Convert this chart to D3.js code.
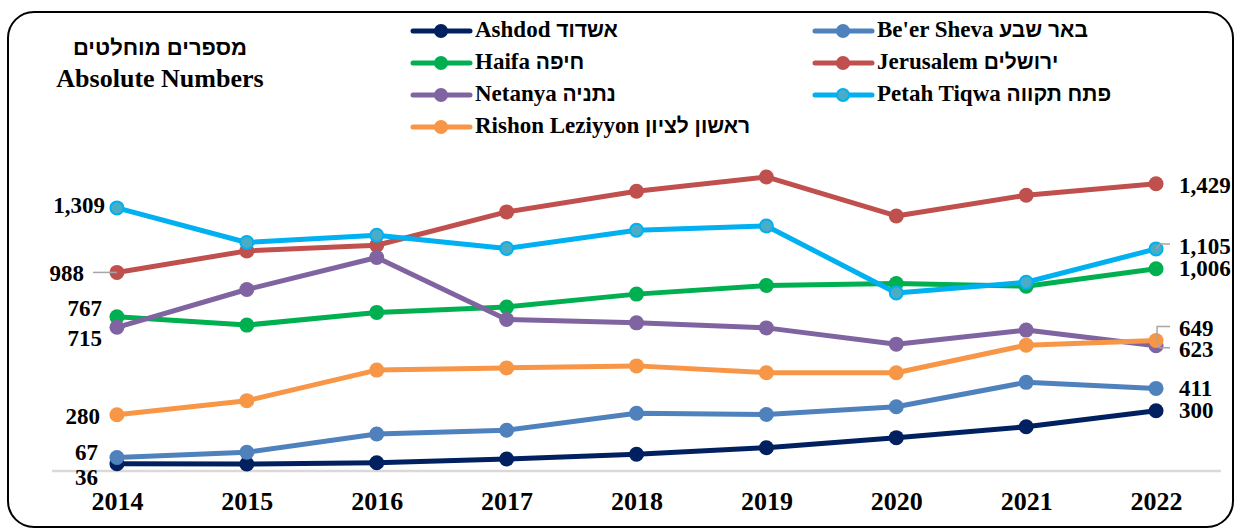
<!DOCTYPE html>
<html>
<head>
<meta charset="utf-8">
<script src="https://cdn.jsdelivr.net/npm/d3@7"></script>
<style>
  html, body { margin: 0; padding: 0; background: #fff; }
  svg { display: block; }
  .serif { font-family: "Liberation Serif", "Times New Roman", serif; font-weight: bold; }
  .heb { font-family: "Liberation Sans", Arial, sans-serif; font-weight: bold; }
</style>
</head>
<body>
<svg id="chart" width="1238" height="531"></svg>
<script>
// ---- data ----
const years = ["2014","2015","2016","2017","2018","2019","2020","2021","2022"];
const seriesNames = ["Ashdod", "Be'er Sheva", "Haifa", "Jerusalem", "Netanya", "Petah Tiqwa", "Rishon Leziyyon"];
const seriesHebrew = ["אשדוד", "באר שבע", "חיפה", "ירושלים", "נתניה", "פתח תקווה", "ראשון לציון"];
const ashdod     = [36, 35, 41, 60, 83, 116, 166, 220, 300];
const beerSheva  = [67, 93, 184, 203, 287, 281, 320, 441, 411];
const haifa      = [767, 726, 789, 816, 880, 923, 933, 919, 1006];
const jerusalem  = [988, 1095, 1123, 1289, 1392, 1463, 1269, 1372, 1429];
const netanya    = [715, 903, 1062, 754, 737, 712, 631, 701, 623];
const petahTiqwa = [1309, 1137, 1173, 1107, 1198, 1219, 886, 939, 1105];
const rishon     = [280, 350, 502, 513, 523, 489, 489, 626, 649];
const allValues = [ashdod, beerSheva, haifa, jerusalem, netanya, petahTiqwa, rishon];
const lineColors   = ["#002060", "#4f81bd", "#00b050", "#c0504d", "#8064a2", "#00b0f0", "#f79646"];
const markerColors = ["#002060", "#4f81bd", "#00b050", "#c0504d", "#8064a2", "#4bacc6", "#f79646"];
const titleHebrew = "מספרים מוחלטים";
const titleEnglish = "Absolute Numbers";
// labels: [series index, year index, dy]
const leftLabels  = [[5,0,-3],[3,0,1],[2,0,-9],[4,0,11],[6,0,1],[1,0,-6],[0,0,13]];
const rightLabels = [[3,8,1],[5,8,-3],[2,8,-1],[6,8,-13],[4,8,3],[1,8,0],[0,8,-1]];

// ---- chart ----
const svg = d3.select("#chart");
svg.append("rect").attr("x", 8).attr("y", 12).attr("width", 1225).attr("height", 515)
  .attr("rx", 26).attr("ry", 26).attr("fill", "#fff").attr("stroke", "#000").attr("stroke-width", 2);

const x = d3.scalePoint().domain(years).range([52, 1221]).padding(0.5);
const y = d3.scaleLinear().domain([0, 1800]).range([471, 109.2]);

// baseline
svg.append("line").attr("x1", 52).attr("x2", 1221).attr("y1", y(0)).attr("y2", y(0))
  .attr("stroke", "#d9d9d9").attr("stroke-width", 2.5);

// x axis labels
const xAxis = d3.axisBottom(x).tickSize(0).tickPadding(0);
const gx = svg.append("g").attr("transform", `translate(0, 491)`).call(xAxis);
gx.select(".domain").remove();
gx.selectAll("text").attr("class", "serif").attr("font-size", 26).attr("fill", "#000")
  .attr("dy", "0.35em").attr("y", 10);

// title
svg.append("text").attr("class", "heb").attr("x", 160).attr("y", 47).attr("dy", "0.35em")
  .attr("text-anchor", "middle").attr("font-size", 22).attr("direction", "rtl").attr("fill", "#000").text(titleHebrew);
svg.append("text").attr("class", "serif").attr("x", 160).attr("y", 78).attr("dy", "0.35em")
  .attr("text-anchor", "middle").attr("font-size", 26).attr("fill", "#000").text(titleEnglish);

// lines + markers
const line = d3.line().x((d, i) => x(years[i])).y(d => y(d));
allValues.forEach((vals, s) => {
  const g = svg.append("g");
  g.append("path").datum(vals).attr("d", line).attr("fill", "none")
    .attr("stroke", lineColors[s]).attr("stroke-width", 5).attr("stroke-linejoin", "round");
  g.selectAll("circle").data(vals).join("circle")
    .attr("cx", (d, i) => x(years[i])).attr("cy", d => y(d)).attr("r", s === 5 ? 6.5 : 7.5)
    .attr("fill", markerColors[s])
    .attr("stroke", s === 5 ? lineColors[s] : "none").attr("stroke-width", s === 5 ? 2 : 0);
});

// leader lines
const lead = svg.append("g").attr("fill", "none").attr("stroke", "#a6a6a6").attr("stroke-width", 1.5);
lead.append("line").attr("x1", 93).attr("x2", x(years[0])).attr("y1", y(jerusalem[0])).attr("y2", y(jerusalem[0]));
const px = x(years[8]);
lead.append("polyline").attr("points", `${px},${y(petahTiqwa[8])} ${px+4},${y(petahTiqwa[8])-5} ${px+14},${y(petahTiqwa[8])-5}`);
lead.append("polyline").attr("points", `${px+1},${y(rishon[8])} ${px+1},${y(rishon[8])-14} ${px+14},${y(rishon[8])-14}`);
lead.append("polyline").attr("points", `${px+1},${y(netanya[8])-3} ${px+4},${y(netanya[8])+2} ${px+14},${y(netanya[8])+2}`);

// value labels
const fmt = d3.format(",");
const leftX = [105, 84, 102, 102, 100, 98, 98];
leftLabels.forEach((l, k) => {
  const [s, yi, dy] = l;
  svg.append("text").attr("class", "serif").attr("font-size", 23).attr("fill", "#000")
    .attr("x", leftX[k]).attr("y", y(allValues[s][yi]) + dy).attr("dy", "0.35em")
    .attr("text-anchor", "end").text(fmt(allValues[s][yi]));
});
rightLabels.forEach(l => {
  const [s, yi, dy] = l;
  svg.append("text").attr("class", "serif").attr("font-size", 23).attr("fill", "#000")
    .attr("x", 1179).attr("y", y(allValues[s][yi]) + dy).attr("dy", "0.35em")
    .attr("text-anchor", "start").text(fmt(allValues[s][yi]));
});

// legend
seriesNames.forEach((name, s) => {
  const col = s % 2, row = Math.floor(s / 2);
  const lx = 413 + col * 402, ly = 31 + row * 32;
  const g = svg.append("g");
  g.append("line").attr("x1", lx).attr("x2", lx + 57).attr("y1", ly).attr("y2", ly)
    .attr("stroke", lineColors[s]).attr("stroke-width", 5).attr("stroke-linecap", "round");
  g.append("circle").attr("cx", lx + 28).attr("cy", ly).attr("r", s === 5 ? 6 : 7)
    .attr("fill", markerColors[s]).attr("stroke", s === 5 ? lineColors[s] : "none").attr("stroke-width", 2);
  const t = g.append("text").attr("x", lx + 62).attr("y", ly).attr("dy", "0.35em").attr("fill", "#000");
  t.append("tspan").attr("class", "serif").attr("font-size", 23).text(name + " ");
  t.append("tspan").attr("class", "heb").attr("font-size", 21).text(seriesHebrew[s]);
});
</script>
</body>
</html>
